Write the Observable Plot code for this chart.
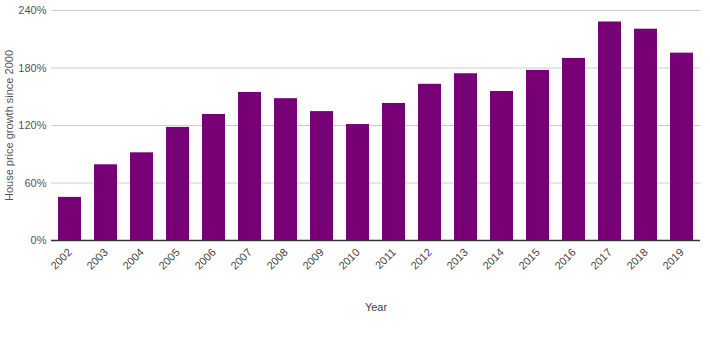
<!DOCTYPE html>
<html>
<head>
<meta charset="utf-8">
<script src="https://cdn.jsdelivr.net/npm/d3@7"></script>
<script src="https://cdn.jsdelivr.net/npm/@observablehq/plot@0.6"></script>
<style>
  html, body { margin: 0; padding: 0; background: #fff; }
  #chart svg { display: block; }
</style>
</head>
<body>
<div id="chart"></div>
<script>
const years = ["2002","2003","2004","2005","2006","2007","2008","2009","2010","2011","2012","2013","2014","2015","2016","2017","2018","2019"];
const growth = [45, 79, 91.5, 118, 131.5, 154.5, 148, 134.5, 121, 143, 163, 174, 155.5, 177.5, 190, 228, 220.5, 195.5];
const yTicks = [0, 60, 120, 180, 240];

const data = years.map((y, i) => ({year: y, value: growth[i]}));

const chart = Plot.plot({
  width: 710,
  height: 340,
  marginTop: 10,
  marginBottom: 100,
  marginLeft: 51,
  marginRight: 10,
  style: {fontFamily: "Liberation Sans, Arial, sans-serif", fontSize: "11px", color: "#444", background: "#fff"},
  x: {domain: years, paddingInner: 0.36, paddingOuter: 0.18},
  y: {domain: [0, 240]},
  marks: [
    Plot.gridY(yTicks, {stroke: "#ccc", strokeOpacity: 1}),
    Plot.barY(data, {x: "year", y: "value", fill: "#770077"}),
    Plot.ruleY([0], {stroke: "#333", strokeWidth: 1.5}),
    Plot.axisY(yTicks, {tickSize: 0, tickPadding: 5, tickFormat: d => d + "%", label: "House price growth since 2000", labelAnchor: "center", labelArrow: "none", labelOffset: 46, fill: "#555"}),
    Plot.axisX({tickSize: 0, tickRotate: -45, tickPadding: 10, label: "Year", labelAnchor: "center", labelArrow: "none", labelOffset: 70, fill: "#444"})
  ]
});
document.getElementById("chart").appendChild(chart);
</script>
</body>
</html>
